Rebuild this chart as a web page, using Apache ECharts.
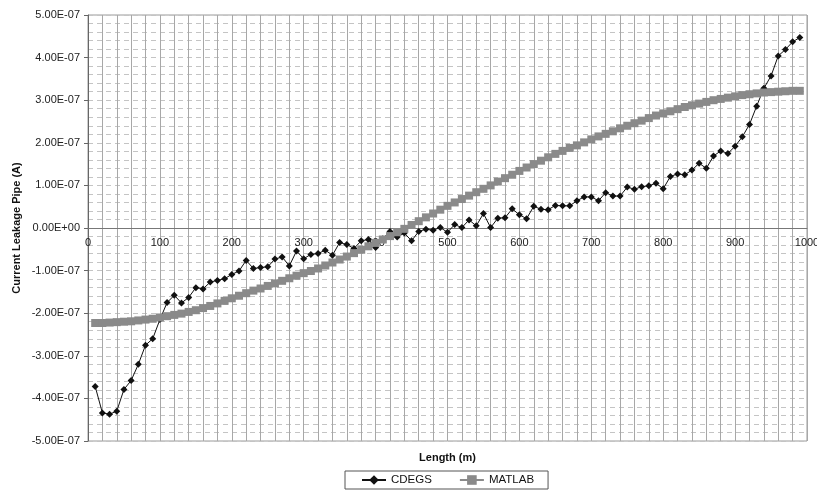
<!DOCTYPE html>
<html>
<head>
<meta charset="utf-8">
<title>Current Leakage Pipe</title>
<script src="https://cdn.jsdelivr.net/npm/echarts@6/dist/echarts.min.js"></script>
<style>
  html, body { margin: 0; padding: 0; background: #fff; }
  #chart { width: 817px; height: 492px; }
</style>
</head>
<body>
<div id="chart"></div>
<script>
// Station positions along the pipe (m)
const lengths = [
  10, 20, 30, 40, 50, 60, 70, 80, 90, 100,
  110, 120, 130, 140, 150, 160, 170, 180, 190, 200,
  210, 220, 230, 240, 250, 260, 270, 280, 290, 300,
  310, 320, 330, 340, 350, 360, 370, 380, 390, 400,
  410, 420, 430, 440, 450, 460, 470, 480, 490, 500,
  510, 520, 530, 540, 550, 560, 570, 580, 590, 600,
  610, 620, 630, 640, 650, 660, 670, 680, 690, 700,
  710, 720, 730, 740, 750, 760, 770, 780, 790, 800,
  810, 820, 830, 840, 850, 860, 870, 880, 890, 900,
  910, 920, 930, 940, 950, 960, 970, 980, 990
];

// Leakage current computed by CDEGS (A)
const cdegs = [
  -3.72e-7, -4.34e-7, -4.37e-7, -4.30e-7, -3.79e-7, -3.58e-7, -3.20e-7, -2.75e-7, -2.60e-7, -2.15e-7,
  -1.75e-7, -1.58e-7, -1.76e-7, -1.63e-7, -1.40e-7, -1.43e-7, -1.27e-7, -1.23e-7, -1.19e-7, -1.09e-7,
  -1.01e-7, -0.76e-7, -0.95e-7, -0.93e-7, -0.91e-7, -0.73e-7, -0.68e-7, -0.89e-7, -0.54e-7, -0.72e-7,
  -0.62e-7, -0.60e-7, -0.52e-7, -0.64e-7, -0.34e-7, -0.39e-7, -0.48e-7, -0.30e-7, -0.27e-7, -0.46e-7,
  -0.25e-7, -0.08e-7, -0.21e-7, -0.12e-7, -0.30e-7, -0.08e-7, -0.03e-7, -0.05e-7, 0.01e-7, -0.10e-7,
  0.08e-7, 0.01e-7, 0.19e-7, 0.05e-7, 0.34e-7, 0.01e-7, 0.23e-7, 0.24e-7, 0.45e-7, 0.31e-7,
  0.22e-7, 0.51e-7, 0.44e-7, 0.43e-7, 0.53e-7, 0.52e-7, 0.52e-7, 0.64e-7, 0.73e-7, 0.73e-7,
  0.64e-7, 0.83e-7, 0.75e-7, 0.75e-7, 0.96e-7, 0.91e-7, 0.97e-7, 0.99e-7, 1.05e-7, 0.92e-7,
  1.21e-7, 1.27e-7, 1.25e-7, 1.36e-7, 1.52e-7, 1.40e-7, 1.69e-7, 1.81e-7, 1.75e-7, 1.92e-7,
  2.14e-7, 2.43e-7, 2.86e-7, 3.28e-7, 3.57e-7, 4.04e-7, 4.19e-7, 4.37e-7, 4.47e-7
];

// Leakage current computed by MATLAB (A)
const matlab = [
  -2.23e-7, -2.23e-7, -2.22e-7, -2.21e-7, -2.20e-7, -2.19e-7, -2.17e-7, -2.15e-7, -2.13e-7, -2.10e-7,
  -2.07e-7, -2.04e-7, -2.01e-7, -1.97e-7, -1.93e-7, -1.88e-7, -1.83e-7, -1.77e-7, -1.71e-7, -1.65e-7,
  -1.59e-7, -1.53e-7, -1.47e-7, -1.42e-7, -1.36e-7, -1.30e-7, -1.24e-7, -1.18e-7, -1.12e-7, -1.06e-7,
  -1.01e-7, -0.95e-7, -0.88e-7, -0.81e-7, -0.74e-7, -0.67e-7, -0.59e-7, -0.51e-7, -0.43e-7, -0.35e-7,
  -0.27e-7, -0.19e-7, -0.10e-7, -0.02e-7, 0.07e-7, 0.16e-7, 0.25e-7, 0.34e-7, 0.43e-7, 0.52e-7,
  0.60e-7, 0.68e-7, 0.76e-7, 0.84e-7, 0.92e-7, 1.00e-7, 1.09e-7, 1.17e-7, 1.25e-7, 1.34e-7,
  1.42e-7, 1.50e-7, 1.58e-7, 1.66e-7, 1.74e-7, 1.81e-7, 1.88e-7, 1.94e-7, 2.01e-7, 2.08e-7,
  2.15e-7, 2.21e-7, 2.27e-7, 2.34e-7, 2.40e-7, 2.46e-7, 2.52e-7, 2.58e-7, 2.64e-7, 2.69e-7,
  2.74e-7, 2.79e-7, 2.84e-7, 2.88e-7, 2.92e-7, 2.96e-7, 3.00e-7, 3.03e-7, 3.06e-7, 3.09e-7,
  3.12e-7, 3.14e-7, 3.16e-7, 3.18e-7, 3.19e-7, 3.20e-7, 3.21e-7, 3.22e-7, 3.22e-7
];

// Axis ranges
const xRange = { min: 0, max: 1000, step: 100 };
const yRange = { min: -5e-7, max: 5e-7, step: 1e-7 };

const FONT = 'Liberation Sans, Arial, sans-serif';

// Plot box (px)
const PLOT = { left: 88, right: 10, top: 15, bottom: 51 };
const PLOT_H = 492 - PLOT.top - PLOT.bottom;

// Format a value as 5.00E-07 / 0.00E+00
function sci(v) {
  if (Math.abs(v) < 1e-15) return '0.00E+00';
  const parts = v.toExponential(2).split('e');
  const sign = parts[1][0] === '-' ? '-' : '+';
  let digits = parts[1].replace(/[+-]/, '');
  if (digits.length < 2) digits = '0' + digits;
  return parts[0] + 'E' + sign + digits;
}

const pair = (xs, ys) => xs.map((x, i) => [x, ys[i]]);

// The length axis sits on the zero current line
const zeroShift = -PLOT_H * (0 - yRange.min) / (yRange.max - yRange.min);

const chart = echarts.init(document.getElementById('chart'), null, { renderer: 'canvas' });

chart.setOption({
  animation: false,
  backgroundColor: '#ffffff',
  textStyle: { fontFamily: FONT },
  grid: {
    left: PLOT.left, right: PLOT.right, top: PLOT.top, bottom: PLOT.bottom,
    outerBoundsMode: 'none',
    containLabel: false,
    show: true, borderColor: '#9a9a9a', borderWidth: 1, backgroundColor: '#ffffff'
  },
  xAxis: {
    type: 'value',
    position: 'bottom',
    offset: zeroShift,
    min: xRange.min, max: xRange.max, interval: xRange.step,
    axisLine: { show: true, onZero: false, lineStyle: { color: '#777', width: 1 } },
    axisTick: { show: false },
    axisLabel: { fontSize: 11, color: '#222', margin: 9, fontFamily: FONT, formatter: v => String(v) },
    splitLine: { show: true, lineStyle: { color: '#a8a8a8', width: 1 } },
    minorTick: { show: false, splitNumber: 5 },
    minorSplitLine: { show: true, lineStyle: { color: '#a8a8a8', width: 1 } }
  },
  yAxis: {
    type: 'value',
    min: yRange.min, max: yRange.max, interval: yRange.step,
    name: 'Current Leakage Pipe (A)',
    nameLocation: 'middle',
    nameGap: 66,
    nameMoveOverlap: false,
    nameTextStyle: { fontWeight: 'bold', fontSize: 11, color: '#111', fontFamily: FONT },
    axisLine: { show: true, onZero: false, lineStyle: { color: '#666', width: 1 } },
    axisTick: { show: true, length: 4, lineStyle: { color: '#666' } },
    axisLabel: { formatter: sci, fontSize: 11, color: '#222', margin: 8, fontFamily: FONT },
    splitLine: { show: true, lineStyle: { color: '#c4c4c4', width: 1, type: [5, 4] } },
    minorTick: { show: false, splitNumber: 5 },
    minorSplitLine: { show: true, lineStyle: { color: '#c4c4c4', width: 1, type: [5, 4] } }
  },
  legend: {
    data: ['CDEGS', 'MATLAB'],
    left: 345, top: 471,
    orient: 'horizontal',
    itemWidth: 24, itemHeight: 12, itemGap: 27,
    padding: [3, 14, 3, 16],
    borderColor: '#555', borderWidth: 1,
    textStyle: { fontSize: 11.5, color: '#111', fontFamily: FONT }
  },
  graphic: [{
    type: 'text',
    style: {
      text: 'Length (m)',
      x: PLOT.left + (817 - PLOT.left - PLOT.right) / 2, y: 458,
      align: 'center', verticalAlign: 'middle',
      font: 'bold 11px ' + FONT,
      fill: '#111'
    }
  }],
  series: [
    {
      name: 'CDEGS',
      type: 'line',
      data: pair(lengths, cdegs),
      symbol: 'diamond',
      symbolSize: 7,
      showAllSymbol: true,
      itemStyle: { color: '#111' },
      lineStyle: { color: '#111', width: 1 },
      z: 2
    },
    {
      name: 'MATLAB',
      type: 'line',
      data: pair(lengths, matlab),
      symbol: 'rect',
      symbolSize: 8,
      showAllSymbol: true,
      itemStyle: { color: '#8a8a8a' },
      lineStyle: { color: '#8a8a8a', width: 1 },
      z: 3
    }
  ]
});
</script>
</body>
</html>
